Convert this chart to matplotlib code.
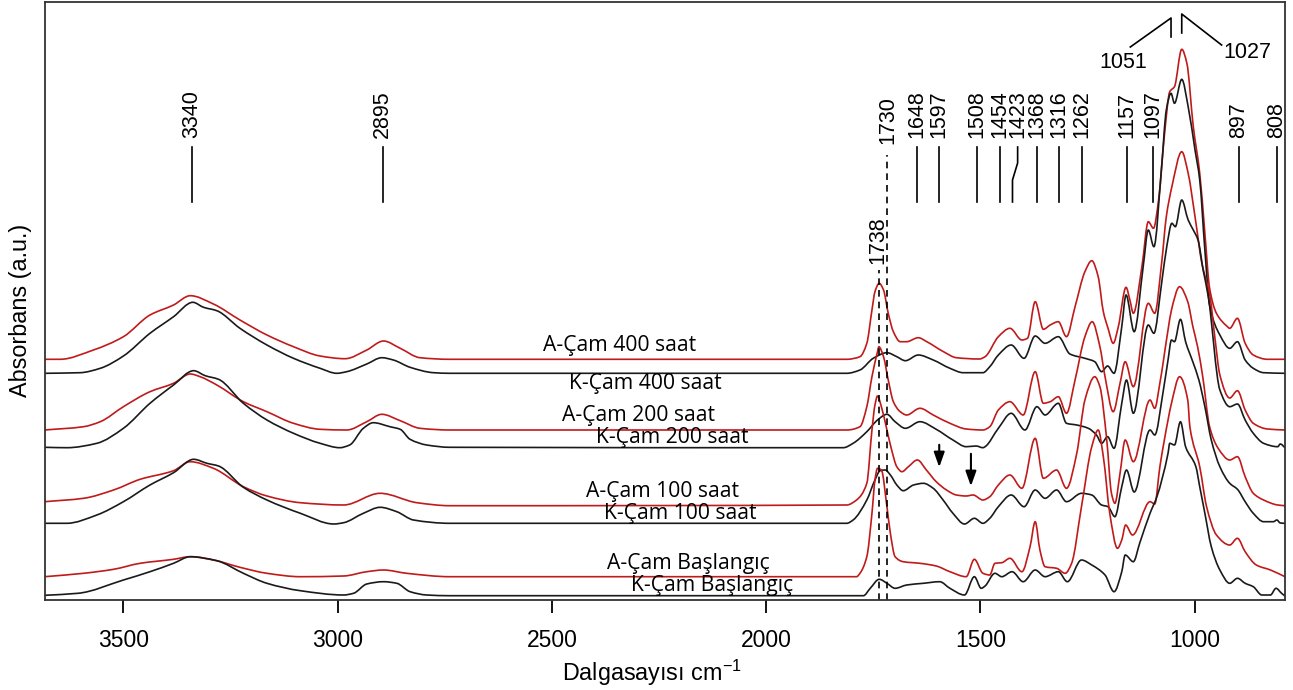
import matplotlib.pyplot as plt
import numpy as np
from matplotlib.path import Path
from matplotlib.patches import PathPatch

# Wavenumber (cm-1) / absorbance (a.u., stacked)
a400_x = [3684, 3648, 3570, 3500, 3438, 3383, 3344, 3290, 3228, 3165, 3103, 3041, 2983, 2932, 2893, 2854,
          2808, 2738, 1812, 1781, 1765, 1753, 1746, 1736, 1726, 1715, 1703, 1687, 1672, 1645, 1625, 1586,
          1556, 1502, 1489, 1458, 1431, 1403, 1390, 1372, 1353, 1337, 1318, 1299, 1279, 1256, 1240, 1225,
          1213, 1202, 1190, 1178, 1160, 1151, 1143, 1123, 1108, 1096, 1084, 1070, 1058, 1047, 1030, 1018,
          1003, 988, 976, 965, 949, 925, 918, 900, 882, 863, 830, 789]
a400_y = [240.7, 240.7, 250, 263.3, 285, 295, 304.3, 296, 280, 265, 253.3, 244, 241.3, 250, 259, 251.7,
          242.3, 240.7, 240.7, 243.3, 256.7, 290, 308.3, 316.7, 310, 286.7, 268.3, 258.3, 258.3, 262.3, 258.3, 248.3,
          242.3, 241, 243.3, 263.3, 271.7, 260, 261.7, 298.3, 270.7, 275, 278.3, 263.3, 293.3, 328.3, 339.3, 323.3,
          288.3, 271.7, 256.7, 273.3, 312.7, 300, 286.7, 333.3, 378.3, 371.7, 400, 466.7, 508.3, 513.3, 550.7, 536.7,
          473.3, 426.7, 366.7, 312, 286.7, 274, 271.7, 281.7, 256.7, 245, 240.7, 240.7]

k400_x = [3684, 3601, 3554, 3500, 3438, 3383, 3338, 3313, 3282, 3228, 3165, 3103, 3041, 3002, 2979, 2932,
          2897, 2870, 2831, 2776, 2738, 1812, 1781, 1750, 1718, 1695, 1675, 1645, 1610, 1571, 1540, 1494,
          1478, 1458, 1428, 1398, 1372, 1349, 1318, 1291, 1256, 1233, 1217, 1203, 1188, 1170, 1160, 1141,
          1120, 1108, 1095, 1077, 1066, 1055, 1047, 1030, 1015, 999, 988, 976, 965, 941, 918, 900,
          882, 863, 839, 789]
k400_y = [226.7, 227.3, 231.7, 244, 266.7, 283.3, 297.7, 292.7, 289.3, 271.7, 255, 241.7, 231.7, 226.7, 228.3, 236,
          242.3, 240, 232.7, 227.3, 226.7, 226.7, 230, 241.7, 247.3, 243.3, 239.3, 245, 240, 231.7, 227.3, 227.3,
          233.3, 245, 255, 241.7, 264, 256.7, 263.3, 246, 241.7, 238.3, 228.3, 234, 226.7, 273.3, 305, 268.3,
          333.3, 370, 353.3, 433.3, 490, 506.7, 496.7, 520.7, 493.3, 450, 420, 350, 295, 265, 251.7, 258.3,
          240, 231.7, 227.3, 226.7]

a200_x = [3684, 3593, 3554, 3500, 3438, 3383, 3344, 3321, 3282, 3220, 3165, 3103, 3041, 2979, 2932, 2897,
          2854, 2808, 2738, 1812, 1781, 1765, 1753, 1740, 1737, 1726, 1715, 1703, 1687, 1672, 1641, 1610,
          1571, 1533, 1494, 1478, 1458, 1431, 1400, 1372, 1353, 1337, 1318, 1299, 1279, 1256, 1239, 1221,
          1209, 1190, 1174, 1162, 1143, 1108, 1093, 1077, 1066, 1053, 1030, 1015, 999, 983, 964, 952,
          941, 918, 900, 882, 863, 830, 789]
a200_y = [170, 173.3, 178.3, 193.3, 208.3, 216.7, 226, 223.3, 215, 198.3, 188.3, 176.7, 170.7, 170, 178.3, 185.7,
          179.3, 171.7, 170, 170, 173.3, 193.3, 223.3, 248.3, 253.3, 243.3, 220, 198.3, 188.3, 185, 191.7, 185,
          176.7, 171, 170, 173.3, 190, 198.3, 185, 228.3, 196.7, 198.3, 203.3, 186.7, 220, 263.3, 278.3, 253.3,
          223.3, 188.3, 216.7, 238.3, 213.3, 296.7, 286.7, 336.7, 383.3, 413.3, 448.3, 426.7, 383.3, 336.7, 303.3, 260,
          225, 202, 209.3, 190, 176.7, 171, 170]

k200_x = [3684, 3632, 3562, 3500, 3438, 3383, 3336, 3309, 3278, 3220, 3165, 3103, 3041, 2995, 2972, 2940,
          2917, 2878, 2854, 2831, 2792, 2738, 1820, 1797, 1765, 1740, 1718, 1699, 1675, 1641, 1603, 1564,
          1533, 1510, 1494, 1489, 1458, 1428, 1396, 1368, 1349, 1318, 1299, 1275, 1248, 1229, 1217, 1203,
          1188, 1170, 1159, 1143, 1108, 1095, 1077, 1065, 1053, 1045, 1030, 1015, 1003, 992, 980, 968,
          941, 918, 900, 882, 863, 839, 806, 800, 789]
k200_y = [152.7, 152.3, 156.7, 171.7, 196.7, 215, 229.3, 224.3, 220.7, 196.7, 180, 166.7, 156.7, 152.3, 155, 171.7,
          177.3, 173.3, 170.7, 160.7, 155, 152.7, 152.3, 156.7, 168.3, 180, 185.7, 178.3, 171.7, 178.3, 170.7, 160,
          153.3, 154, 152.3, 153.3, 171.7, 186.7, 170, 193.3, 185, 196.7, 176.7, 175, 171.7, 165, 156.7, 163.3,
          151.7, 196.7, 220, 186.7, 275, 266.7, 316.7, 353.3, 376.7, 373.3, 400, 380, 370, 360, 330, 303.3,
          210, 193.3, 196, 180, 166.7, 156.7, 153.3, 156, 152.3]

a100_x = [3684, 3593, 3523, 3461, 3383, 3344, 3290, 3220, 3165, 3087, 2986, 2901, 2815, 2738, 1812, 1789,
          1765, 1753, 1746, 1740, 1731, 1718, 1707, 1695, 1683, 1668, 1647, 1626, 1603, 1579, 1556, 1533,
          1517, 1494, 1478, 1458, 1431, 1403, 1372, 1353, 1322, 1299, 1275, 1256, 1233, 1221, 1205, 1194,
          1186, 1174, 1162, 1143, 1104, 1093, 1081, 1062, 1054, 1035, 1016, 1004, 993, 981, 965, 945,
          918, 900, 882, 863, 839, 806, 789]
a100_y = [98.3, 101.7, 110, 120.7, 129.3, 138.3, 131.7, 113.3, 104, 97.3, 95, 106.7, 97.3, 94.3, 95, 100,
          116.7, 170, 195, 204, 193.3, 170, 150, 133.3, 128.3, 133.3, 140, 130, 118.3, 110, 105, 104,
          105, 100, 103.3, 115, 125, 111.7, 161.7, 121.7, 130, 111.7, 146.7, 200, 223.3, 213.3, 160, 106.7,
          96.7, 126.7, 160, 138.3, 200, 191.7, 217, 270, 290, 313.3, 298.3, 273.3, 253.3, 223.3, 173.3, 151.7,
          140, 143.3, 123.3, 106.7, 100, 95, 94.3]

k100_x = [3684, 3632, 3562, 3500, 3438, 3383, 3336, 3305, 3278, 3220, 3165, 3087, 3009, 2986, 2940, 2901,
          2862, 2823, 2738, 1812, 1797, 1765, 1746, 1734, 1722, 1710, 1695, 1680, 1656, 1633, 1610, 1587,
          1564, 1537, 1514, 1494, 1478, 1458, 1428, 1398, 1372, 1349, 1322, 1299, 1264, 1240, 1217, 1202,
          1186, 1170, 1159, 1141, 1104, 1093, 1074, 1062, 1054, 1047, 1033, 1021, 1004, 990, 976, 961,
          941, 918, 900, 882, 863, 839, 816, 808, 800, 789]
k100_y = [76.7, 76.7, 85, 98.3, 115, 127.3, 140.7, 136.7, 134, 112.7, 100, 86.7, 76, 77.3, 86.7, 92.7,
          88.3, 80, 76.7, 76.7, 80, 100, 120, 129.3, 130, 125, 115, 109.3, 115, 116.7, 111.7, 100,
          86.7, 76, 81.7, 76.7, 81.7, 93.3, 105, 93.3, 110, 101.7, 110, 98.3, 106.7, 105, 95, 93.3,
          83.3, 113.3, 130, 108, 170, 165, 206.7, 240, 260, 258.3, 280.7, 258.3, 238, 220, 193.3, 160,
          133.3, 116.7, 110.7, 98.3, 86.7, 78.3, 78.3, 80, 77, 76.7]

a0_x = [3684, 3593, 3523, 3461, 3383, 3344, 3290, 3228, 3165, 3087, 2986, 2932, 2893, 2839, 2738, 1789,
        1781, 1765, 1753, 1746, 1740, 1731, 1718, 1710, 1699, 1680, 1641, 1603, 1571, 1533, 1514, 1494,
        1478, 1466, 1450, 1431, 1403, 1384, 1372, 1361, 1349, 1322, 1302, 1287, 1264, 1240, 1225, 1213,
        1198, 1180, 1170, 1161, 1145, 1104, 1093, 1081, 1062, 1054, 1035, 1016, 1011, 988, 972, 949,
        918, 900, 882, 856, 823, 789]
a0_y = [23.3, 26.7, 30.7, 36.7, 40.7, 43.3, 40, 32.7, 26.7, 23.3, 24, 28.3, 30, 26.7, 23.3, 23.3,
        26.7, 43.3, 86.7, 120, 131.7, 130, 93.3, 66.7, 43.3, 38.3, 36.7, 34, 28.3, 23.3, 40.7, 26.7,
        25, 36.7, 37.3, 41.7, 28.3, 53.3, 78.3, 50, 33.3, 31.7, 26.7, 36.7, 93.3, 153.3, 170, 143.3,
        86.7, 51.7, 60, 75, 65, 98.3, 96, 133.3, 180, 196.7, 223.3, 200, 173.3, 133.3, 93.3, 65,
        55, 61.7, 48.3, 35, 30, 23.3]

k0_x = [3684, 3606, 3500, 3438, 3383, 3344, 3282, 3220, 3165, 3087, 2986, 2963, 2932, 2893, 2862, 2831,
        2792, 2738, 1773, 1757, 1736, 1718, 1699, 1672, 1633, 1595, 1571, 1537, 1514, 1498, 1489, 1466,
        1450, 1426, 1400, 1372, 1349, 1318, 1297, 1264, 1240, 1209, 1188, 1170, 1162, 1143, 1128, 1104,
        1088, 1062, 1058, 1047, 1033, 1021, 997, 988, 976, 961, 941, 918, 900, 882, 863, 843,
        823, 810, 797, 789]
k0_y = [4.7, 6.7, 20, 28.3, 36.7, 43.3, 39.3, 26.7, 16.7, 9.3, 5, 6.7, 16, 18.3, 16.7, 8.3,
        5, 4.3, 4.3, 11.7, 20.7, 16.7, 11.7, 15, 16.7, 18.3, 11.7, 5, 23.3, 11.7, 14, 26.7,
        23.3, 28.3, 18.3, 30, 23.3, 28.3, 18.3, 40, 35, 25, 8.3, 28.3, 45, 38.3, 57, 86.7,
        103.3, 146.7, 156.7, 155, 178.3, 153.3, 133.3, 113.3, 86.7, 53.3, 30, 16.7, 21.7, 16.7, 13.3, 5,
        5, 11.7, 6.7, 4]

# curve labels: text, wavenumber, height
curve_names = ['A-Çam 400 saat', 'K-Çam 400 saat', 'A-Çam 200 saat', 'K-Çam 200 saat',
               'A-Çam 100 saat', 'K-Çam 100 saat', 'A-Çam Başlangıç', 'K-Çam Başlangıç']
name_x = [2341, 2283, 2297, 2220, 2242, 2201, 2182, 2126]
name_y = [254, 217, 184, 162, 109, 86, 37, 15]

# marked bands
peaks = [3340, 2895, 1648, 1597, 1508, 1454, 1368, 1316, 1262, 1157, 1097, 897, 808]

RED = '#c01a1a'
BLACK = '#1a1a1a'


def smooth_path(xs, ys):
    # monotone cubic (pchip) tangents, drawn as bezier segments through the read points
    x = np.asarray(xs, float)
    y = np.asarray(ys, float)
    h = np.diff(x)
    d = np.diff(y) / h
    m = np.zeros_like(y)
    m[0], m[-1] = d[0], d[-1]
    for k in range(1, len(x) - 1):
        if d[k - 1] * d[k] > 0:
            w1 = 2 * h[k] + h[k - 1]
            w2 = h[k] + 2 * h[k - 1]
            m[k] = (w1 + w2) / (w1 / d[k - 1] + w2 / d[k])
    verts = [(x[0], y[0])]
    codes = [Path.MOVETO]
    for k in range(len(x) - 1):
        verts += [(x[k] + h[k] / 3, y[k] + m[k] * h[k] / 3),
                  (x[k + 1] - h[k] / 3, y[k + 1] - m[k + 1] * h[k] / 3),
                  (x[k + 1], y[k + 1])]
        codes += [Path.CURVE4] * 3
    return Path(verts, codes)


def main():
    plt.rcParams['font.family'] = ['Liberation Sans', 'DejaVu Sans']
    plt.rcParams['mathtext.fontset'] = 'custom'
    plt.rcParams['mathtext.rm'] = 'Liberation Sans'

    fig = plt.figure(figsize=(12.93, 6.90), dpi=100)
    ax = fig.add_axes([45 / 1293, 90 / 690, 1240 / 1293, 598 / 690])

    series = [(a400_x, a400_y, RED), (k400_x, k400_y, BLACK),
              (a200_x, a200_y, RED), (k200_x, k200_y, BLACK),
              (a100_x, a100_y, RED), (k100_x, k100_y, BLACK),
              (a0_x, a0_y, RED), (k0_x, k0_y, BLACK)]
    for xs, ys, c in series:
        ax.add_patch(PathPatch(smooth_path(xs, ys), fill=False, edgecolor=c, lw=1.2,
                               joinstyle='round', capstyle='round'))

    for name, x, y in zip(curve_names, name_x, name_y):
        ax.text(x, y, name, ha='center', va='center', fontsize=15.2, family='Open Sans')

    # band marks with labels
    for p in peaks:
        ax.plot([p, p], [398, 453], color='black', lw=1.2)
        ax.text(p, 462, str(p), rotation=90, ha='center', va='bottom', fontsize=15.5)
    # 1423 has a kinked marker
    ax.plot([1413, 1413, 1425, 1425], [453, 437, 420, 398], color='black', lw=1.2)
    ax.text(1413, 462, '1423', rotation=90, ha='center', va='bottom', fontsize=15.5)

    # carbonyl bands, dashed down to the baseline
    ax.plot([1736, 1736], [0, 330], color='black', lw=1.2, ls=(0, (4, 3)))
    ax.text(1740, 336, '1738', rotation=90, ha='center', va='bottom', fontsize=15.5)
    ax.plot([1718, 1718], [0, 445], color='black', lw=1.2, ls=(0, (4, 3)))
    ax.text(1716, 456, '1730', rotation=90, ha='center', va='bottom', fontsize=15.5)

    # 1051 / 1027 bracket
    ax.plot([1150, 1055, 1055], [553, 582, 563], color='black', lw=1.2)
    ax.plot([937, 1030, 1030], [555, 586, 567], color='black', lw=1.2)
    ax.text(1167, 538, '1051', ha='center', va='center', fontsize=15.5)
    ax.text(876, 547, '1027', ha='center', va='center', fontsize=15.5)

    # arrows on A-Çam 100 saat
    arrow = dict(arrowstyle='-|>,head_length=0.9,head_width=0.32', color='black', lw=1.5)
    ax.annotate('', xy=(1596, 130), xytext=(1596, 158), arrowprops=arrow)
    ax.annotate('', xy=(1522, 111), xytext=(1522, 149), arrowprops=arrow)

    ax.set_xlim(3683, 789)
    ax.set_ylim(0, 598)
    ax.set_xticks([3500, 3000, 2500, 2000, 1500, 1000])
    ax.set_yticks([])
    ax.tick_params(axis='x', direction='out', length=9, width=1.3, labelsize=16.5, pad=12)
    for s in ax.spines.values():
        s.set_linewidth(1.3)
        s.set_color('#333333')

    ax.set_xlabel('Dalgasayısı cm$^{-1}$', fontsize=16.8)
    ax.xaxis.set_label_coords(0.4895, -0.097)
    ax.set_ylabel('Absorbans (a.u.)', fontsize=16.8, va='center')
    ax.yaxis.set_label_coords(-0.0194, 0.485)

    fig.savefig('out.png', dpi=100)


if __name__ == "__main__":
    main()
